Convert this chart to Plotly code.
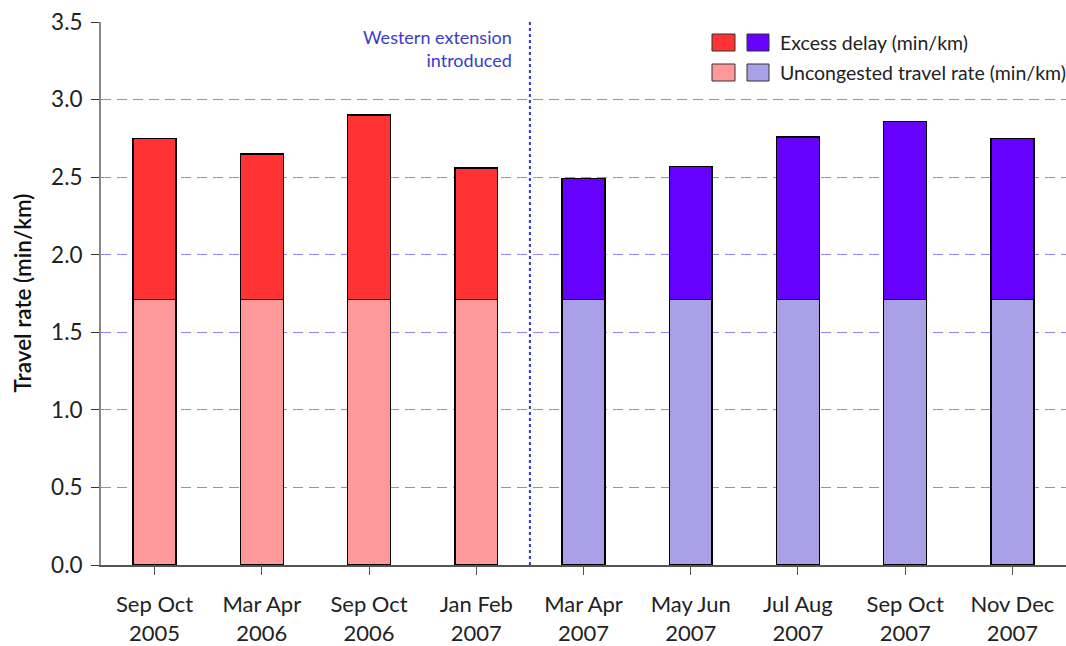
import plotly.graph_objects as go

categories = ["Sep Oct<br>2005", "Mar Apr<br>2006", "Sep Oct<br>2006", "Jan Feb<br>2007",
              "Mar Apr<br>2007", "May Jun<br>2007", "Jul Aug<br>2007", "Sep Oct<br>2007", "Nov Dec<br>2007"]
uncongested = [1.71, 1.71, 1.71, 1.71, 1.71, 1.71, 1.71, 1.71, 1.71]
total_rate = [2.75, 2.65, 2.90, 2.56, 2.49, 2.57, 2.76, 2.86, 2.75]
excess = [round(t - u, 2) for t, u in zip(total_rate, uncongested)]
period = ["before"] * 4 + ["after"] * 5

RED, PURPLE = "#FF3333", "#6600FF"
LRED, LPURPLE = "#FF9999", "#A9A0E8"
FONT = "Lato"

x = list(range(len(categories)))
fig = go.Figure()
fig.add_trace(go.Bar(x=x, y=uncongested, width=0.4,
                     marker=dict(color=[LRED if p == "before" else LPURPLE for p in period],
                                 line=dict(color="black", width=1.5)),
                     name="Uncongested travel rate (min/km)", showlegend=False))
fig.add_trace(go.Bar(x=x, y=excess, width=0.4,
                     marker=dict(color=[RED if p == "before" else PURPLE for p in period],
                                 line=dict(color="black", width=1.5)),
                     name="Excess delay (min/km)", showlegend=False))

fig.update_layout(
    barmode="stack",
    width=1066, height=646,
    margin=dict(l=101, r=0, t=22, b=81),
    plot_bgcolor="white", paper_bgcolor="white",
    font=dict(family=FONT, size=18, color="#222222"),
    showlegend=False,
)
fig.update_xaxes(
    tickmode="array", tickvals=x, ticktext=categories,
    range=[-0.5, len(categories) - 0.5],
    showline=True, linecolor="#555555", linewidth=1.5,
    ticks="outside", ticklen=8, tickcolor="#555555",
    showgrid=False, zeroline=False,
    tickfont=dict(size=22),
    ticklabelstandoff=11,
    tickson="boundaries",
    automargin=False,
)
fig.update_yaxes(
    range=[0, 3.5], dtick=0.5, tickformat=".1f",
    showline=True, linecolor="#888888", linewidth=2,
    ticks="outside", ticklen=8, tickcolor="#333333",
    showgrid=True, gridcolor="#A080F8", griddash="10px,6px", gridwidth=1.2,
    zeroline=False,
    tickfont=dict(size=22.5),
    ticklabelstandoff=4,
    automargin=False,
)

# y-axis title
fig.add_annotation(xref="paper", yref="paper", x=(22 - 101) / 965, y=0.5,
                   text="Travel rate (min/km)", textangle=-90, showarrow=False,
                   xanchor="center", yanchor="middle",
                   font=dict(size=22.5, weight=600, color="#111111"))

# vertical dotted marker between Jan Feb 2007 and Mar Apr 2007
fig.add_shape(type="line", xref="x", yref="y", x0=3.5, x1=3.5, y0=0, y1=3.5,
              line=dict(color="#3333CC", width=2, dash="dot"))
fig.add_annotation(xref="x", yref="paper", x=3.5, y=(565 - 49) / 543, xshift=-16,
                   text="Western extension<br>introduced", showarrow=False,
                   xanchor="right", yanchor="middle", align="right",
                   font=dict(size=18, color="#3B3BCC", family=FONT))

# custom legend
def px2x(px):
    return (px - 101) / 965
def py2y(py):
    return (565 - py) / 543

for (c, x0, x1, y0, y1) in [
    (RED, 712, 735, 34, 51), (PURPLE, 747, 769, 34, 51),
    (LRED, 712, 735, 64, 81), (LPURPLE, 747, 769, 64, 81)]:
    fig.add_shape(type="rect", xref="paper", yref="paper",
                  x0=px2x(x0), x1=px2x(x1), y0=py2y(y1), y1=py2y(y0),
                  fillcolor=c, line=dict(color="#333333", width=1))
fig.add_annotation(xref="paper", yref="paper", x=px2x(778), y=py2y(42),
                   text="Excess delay (min/km)", showarrow=False,
                   xanchor="left", yanchor="middle", font=dict(size=19.5))
fig.add_annotation(xref="paper", yref="paper", x=px2x(778), y=py2y(72),
                   text="Uncongested travel rate (min/km)", showarrow=False,
                   xanchor="left", yanchor="middle", font=dict(size=19.5))

fig.write_html("out.html", config={"displayModeBar": False},
               post_script="document.body.style.margin='0';document.body.style.overflow='hidden';")
